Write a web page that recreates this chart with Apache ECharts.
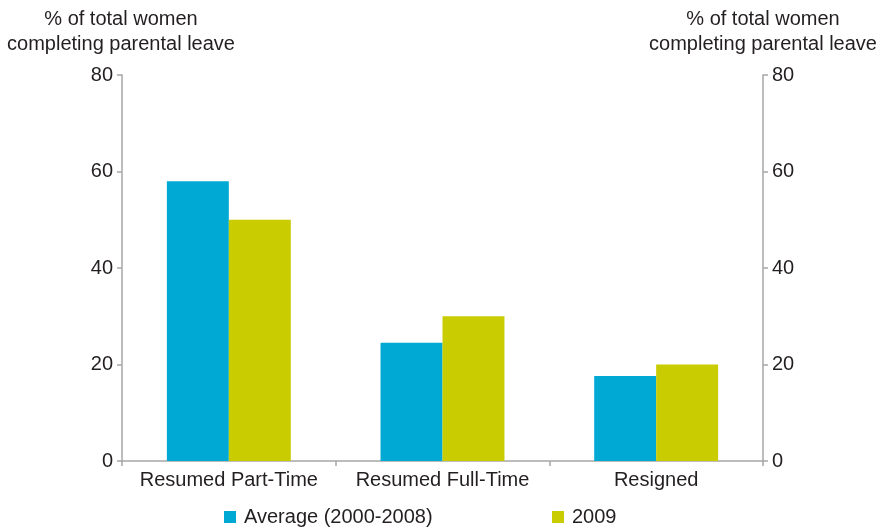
<!DOCTYPE html>
<html>
<head>
<meta charset="utf-8">
<script src="https://cdn.jsdelivr.net/npm/echarts@6/dist/echarts.min.js"></script>
<style>
  html, body { margin: 0; padding: 0; background: #fff; }
  #chart { width: 882px; height: 529px; }
</style>
</head>
<body>
<div id="chart"></div>
<script>
// Parental leave outcomes, share of women completing leave
const categories = ['Resumed Part-Time', 'Resumed Full-Time', 'Resigned'];
const averageValues = [58, 24.5, 17.6];
const values2009 = [50, 30, 20];
const seriesNames = ['Average (2000-2008)', '2009'];
const axisTitle = '% of total women\ncompleting parental leave';

const FONT = '"Liberation Sans", Arial, sans-serif';
const TEXT = '#231f20';
const AXIS = '#a6a6a6';
const BLUE = '#00a9d4';
const OLIVE = '#c8cc00';

const chart = echarts.init(document.getElementById('chart'), null, { renderer: 'canvas' });

const valueAxis = (pos) => ({
  type: 'value',
  position: pos,
  min: 0,
  max: 80,
  interval: 20,
  splitLine: { show: false },
  axisLine: { show: true, lineStyle: { color: AXIS, width: 1.5 } },
  axisTick: { show: true, length: 5, lineStyle: { color: AXIS, width: 1.5 } },
  axisLabel: { color: TEXT, fontSize: 20, fontFamily: FONT, margin: 9 }
});

const titleStyle = {
  color: TEXT, fontSize: 20, fontWeight: 'normal', fontFamily: FONT, lineHeight: 25, align: 'center'
};

const legendStyle = {
  top: 502, itemWidth: 12, itemHeight: 12, icon: 'rect',
  textStyle: { color: TEXT, fontSize: 20, fontFamily: FONT, padding: [0, 0, 0, 3] }
};

chart.setOption({
  animation: false,
  textStyle: { fontFamily: FONT },
  grid: { left: 122, right: 119, top: 75, bottom: 68 },
  title: [
    { text: axisTitle, left: 116, top: 2, textAlign: 'center', textStyle: titleStyle },
    { text: axisTitle, left: 758, top: 2, textAlign: 'center', textStyle: titleStyle }
  ],
  legend: [
    Object.assign({ data: [seriesNames[0]], left: 219 }, legendStyle),
    Object.assign({ data: [seriesNames[1]], left: 547 }, legendStyle)
  ],
  xAxis: {
    type: 'category',
    data: categories,
    axisLine: { show: true, lineStyle: { color: AXIS, width: 1.5 } },
    axisTick: { show: true, interval: 0, length: 5, lineStyle: { color: AXIS, width: 1.5 } },
    axisLabel: { interval: 0, hideOverlap: false, color: TEXT, fontSize: 20, fontFamily: FONT, margin: 9 }
  },
  yAxis: [valueAxis('left'), valueAxis('right')],
  series: [
    { name: seriesNames[0], type: 'bar', data: averageValues, yAxisIndex: 0,
      itemStyle: { color: BLUE }, barGap: '0%', barCategoryGap: '42%' },
    { name: seriesNames[1], type: 'bar', data: values2009, yAxisIndex: 0,
      itemStyle: { color: OLIVE }, barGap: '0%', barCategoryGap: '42%' }
  ]
});
</script>
</body>
</html>
